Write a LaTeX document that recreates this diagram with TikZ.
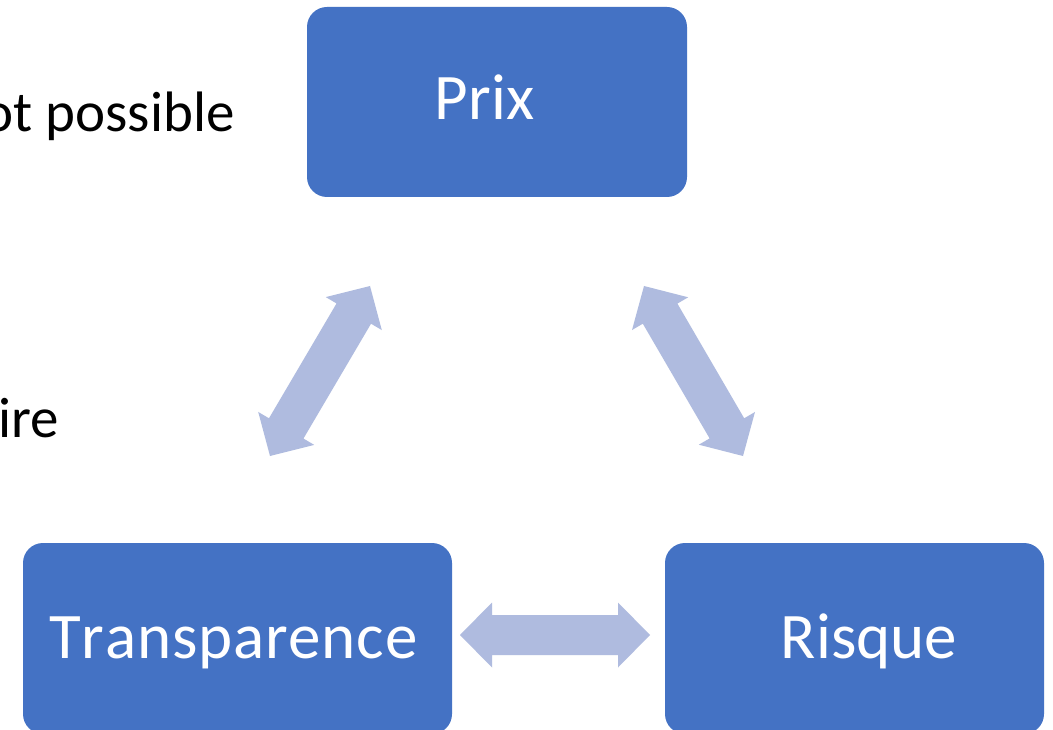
\documentclass[tikz,border=0pt]{standalone}
\usepackage{fontspec}
\setmainfont{Carlito}
\usetikzlibrary{calc}
\definecolor{boxblue}{HTML}{4472C4}
\definecolor{arrowblue}{HTML}{AFBBDF}
% double block arrow between two named coordinates
\newcommand\dblblockarrow[3]{%
  \coordinate (#3h1) at ($(#1)!32pt!(#2)$);
  \coordinate (#3h2) at ($(#2)!32pt!(#1)$);
  \coordinate (#3a) at ($(#3h1)!32.5pt!90:(#2)$);
  \coordinate (#3b) at ($(#3h1)!20pt!90:(#2)$);
  \coordinate (#3c) at ($(#3h2)!20pt!90:(#2)$);
  \coordinate (#3d) at ($(#3h2)!32.5pt!90:(#2)$);
  \coordinate (#3e) at ($(#3h2)!32.5pt!-90:(#2)$);
  \coordinate (#3f) at ($(#3h2)!20pt!-90:(#2)$);
  \coordinate (#3g) at ($(#3h1)!20pt!-90:(#2)$);
  \coordinate (#3i) at ($(#3h1)!32.5pt!-90:(#2)$);
  \fill[blockarrow] (#1) -- (#3a) -- (#3b) -- (#3c) -- (#3d) -- (#2)
    -- (#3e) -- (#3f) -- (#3g) -- (#3i) -- cycle;}
\begin{document}
\begin{tikzpicture}[x=1pt,y=-1pt,
  box/.style={fill=boxblue, draw=none, rounded corners=20pt, inner sep=0pt, minimum height=191pt},
  boxtext/.style={text=white, font=\fontsize{65}{78}\selectfont, inner sep=0pt, anchor=base},
  sidetext/.style={text=black, font=\fontsize{57}{68}\selectfont, inner sep=0pt},
  blockarrow/.style={fill=arrowblue, draw=none}]
\useasboundingbox (0,0) rectangle (1053,730);
\clip (0,0) rectangle (1053,730);
\fill[white] (0,0) rectangle (1053,730);

% side texts (partly cut by the page edge)
\node[sidetext, anchor=base east] (t1) at (235,132) {ot possible};
\node[sidetext, anchor=base west] (t2) at (-2,437) {ire};

% arrow end points
\coordinate (pa) at (370,286);
\coordinate (ta) at (270,456);
\coordinate (pb) at (644,286);
\coordinate (rb) at (743,456);
\coordinate (tc) at (460,635);
\coordinate (rc) at (650,635);

\dblblockarrow{pa}{ta}{arrA}
\dblblockarrow{pb}{rb}{arrB}
\dblblockarrow{tc}{rc}{arrC}

% boxes
\node[box, minimum width=380pt, minimum height=190pt] (prix) at (497,102) {};
\node[box, minimum width=429pt] (trans) at (237.5,638.5) {};
\node[box, minimum width=379pt] (risque) at (854.5,638.5) {};

\node[boxtext] (prixt) at (484.5,120) {Prix};
\node[boxtext] (transt) at (233.5,658) {\addfontfeatures{Kerning=Off,LetterSpace=1.2}Transparence};
\node[boxtext] (risquet) at (869,658) {Risque};
\end{tikzpicture}
\end{document}
